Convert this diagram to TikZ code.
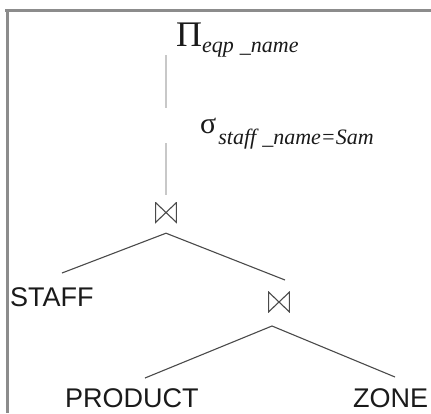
\documentclass[tikz,border=0pt]{standalone}
\usepackage{fontspec}
\setmainfont{Liberation Sans}
\newfontfamily\opfont{Liberation Serif}
\definecolor{inkcol}{HTML}{1A1A1A}
\definecolor{edgecol}{HTML}{4A4A4A}
\definecolor{framecol}{HTML}{8C8C8C}
\definecolor{stemcol}{HTML}{C8C8C8}
\begin{document}
\begin{tikzpicture}[x=1pt,y=-1pt,
  relname/.style={inner sep=0pt, anchor=base west, text=inkcol,
    font=\fontsize{27}{27}\selectfont},
  opname/.style={inner sep=0pt, anchor=base west, text=inkcol},
  joinop/.style={minimum width=22pt, minimum height=21pt, inner sep=0pt,
    path picture={\draw[edgecol, line width=1.1pt, line join=miter]
      ([xshift=0.6pt,yshift=0.6pt]path picture bounding box.south west) --
      ([xshift=0.6pt,yshift=-0.6pt]path picture bounding box.north west) --
      ([xshift=-0.6pt,yshift=0.6pt]path picture bounding box.south east) --
      ([xshift=-0.6pt,yshift=-0.6pt]path picture bounding box.north east) -- cycle;}},
  edge/.style={draw=edgecol, line width=1.1pt},
  stem/.style={draw=stemcol, line width=1.4pt},
  frameline/.style={draw=framecol}
]
\useasboundingbox (0,0) rectangle (431,413);
\fill[white] (0,0) rectangle (431,413);

% page frame
\draw[frameline, line width=2.5pt] (5,10.5) -- (431,10.5);
\draw[frameline, line width=3pt] (7,9.5) -- (7,413);

% operators
\node[opname] (proj) at (176,46)
  {{\opfont\fontsize{36}{36}\selectfont Π}\raisebox{-6pt}{\opfont\itshape\fontsize{22}{22}\selectfont eqp\hspace{6pt}\_name}};
\node[opname] (sel) at (200,133)
  {{\opfont\fontsize{30}{30}\selectfont σ}\hspace{2pt}\raisebox{-11pt}{\opfont\itshape\fontsize{22}{22}\selectfont staff\hspace{6pt}\_name=Sam}};
\node[joinop] (j1) at (166,212.5) {};
\node[joinop] (j2) at (279,302) {};

% relations
\node[relname] (staff) at (10,306) {STAFF};
\node[relname] (product) at (65,407) {PRODUCT};
\node[relname] (zone) at (353,407) {ZONE};

% connector ends
\coordinate (projfoot) at (166,55);
\coordinate (selhead) at (166,108);
\coordinate (selfoot) at (166,143);
\coordinate (j1apex) at ([yshift=-10pt]j1.south);
\coordinate (j2apex) at (272,326);
\coordinate (staffend) at (62,273);
\coordinate (j2top) at (285,280);
\coordinate (productend) at (145,378);
\coordinate (zoneend) at (395,377);

% stem from projection through selection to the first join
\draw[stem] (projfoot) -- (selhead);
\draw[stem] (selfoot) -- ([yshift=7pt]j1.north);

% join tree
\draw[edge] (staffend) -- (j1apex) -- (j2top);
\draw[edge] (productend) -- (j2apex) -- (zoneend);
\end{tikzpicture}
\end{document}
